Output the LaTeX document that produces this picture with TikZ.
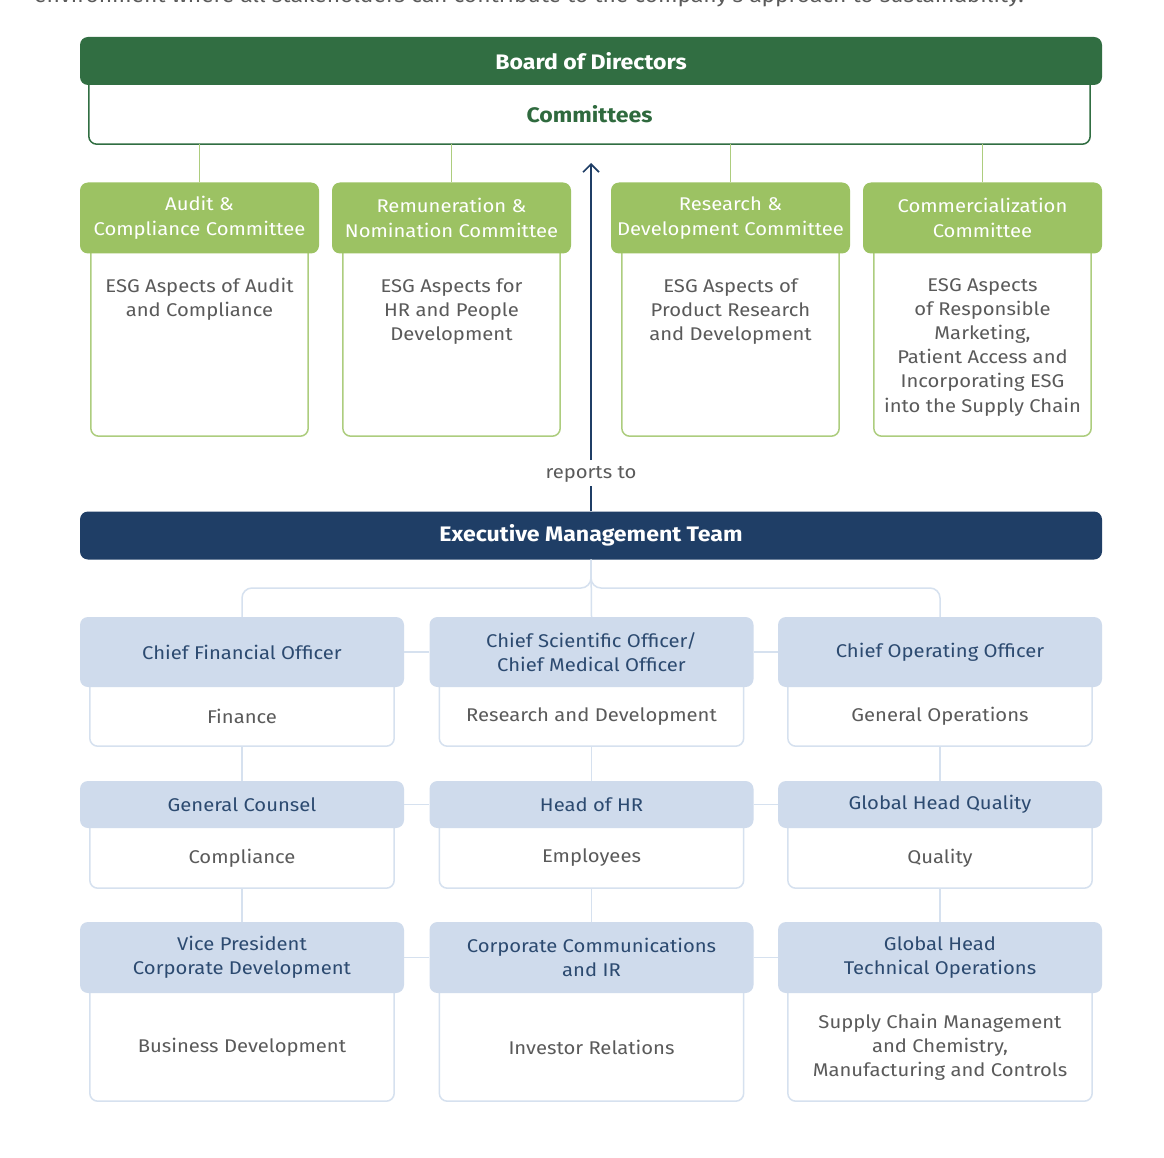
\documentclass[tikz,border=0pt]{standalone}
\usepackage{fontspec}
\setmainfont{Fira Sans}[FakeStretch=1.1]
\usetikzlibrary{arrows.meta}
\definecolor{dkgreen}{HTML}{316E42}
\definecolor{ltgreen}{HTML}{9CC263}
\definecolor{lgline}{HTML}{ADCD7E}
\definecolor{navy}{HTML}{1F3E66}
\definecolor{lblue}{HTML}{CFDBEC}
\definecolor{lbline}{HTML}{D6E1EF}
\definecolor{navytxt}{HTML}{2C4A70}
\definecolor{bodygray}{HTML}{5A5A5A}
\definecolor{commtxt}{HTML}{2F6A3E}
\newcommand\Ubox[2]{\draw[#2] (#1.north west) -- (#1.south west) -- (#1.south east) -- (#1.north east);}
\begin{document}
\begin{tikzpicture}[x=1pt,y=-1pt,
  bar/.style={rounded corners=8pt, text=white, font=\bfseries\fontsize{21}{24}\selectfont, minimum width=1022pt, minimum height=48pt, inner sep=0pt},
  commbox/.style={fill=white, minimum width=1001pt, minimum height=59pt, inner sep=0pt, text=commtxt, font=\bfseries\fontsize{21}{24}\selectfont},
  commline/.style={draw=dkgreen, line width=1.5pt, rounded corners=8pt},
  chdr/.style={fill=ltgreen, rounded corners=8pt, text=white, align=center, font=\fontsize{18.4}{25}\selectfont, minimum width=239pt, minimum height=71pt, inner sep=0pt},
  cbody/.style={fill=white, minimum width=217pt, minimum height=183pt, inner sep=0pt},
  cline/.style={draw=lgline, line width=1.5pt, rounded corners=8pt},
  ctext/.style={text=bodygray, align=center, font=\fontsize{18.4}{24.2}\selectfont, anchor=north, inner sep=0pt},
  gconn/.style={draw=lgline, line width=1.5pt},
  ehdr/.style={fill=lblue, rounded corners=8pt, text=navytxt, align=center, font=\fontsize{18.4}{24}\selectfont, minimum width=324pt, inner sep=0pt},
  ebody/.style={fill=white, minimum width=304pt, inner sep=0pt, text=bodygray, align=center, font=\fontsize{18.4}{24}\selectfont},
  eline/.style={draw=lbline, line width=1.5pt, rounded corners=8pt},
  bconn/.style={draw=lbline, line width=1.5pt},
  navyline/.style={draw=navy, line width=1.6pt}
]
\useasboundingbox[fill=white] (0,0) rectangle (1164,1158);
% cut-off intro text
\begin{scope}
\clip (0,0) rectangle (1164,30);
\node[anchor=base west, inner sep=0pt, text=bodygray, font=\fontsize{20.7}{24}\selectfont] (intro) at (34,3) {environment where all stakeholders can contribute to the company's approach to sustainability.};
\end{scope}
% Board and committees
\node[commbox] (comm) at (589.5,114.5) {Committees};
\Ubox{comm}{commline}
\node[bar, fill=dkgreen] (board) at (591,61) {Board of Directors};
% committee boxes
\foreach \n/\cx/\h/\b in {
  c1/199.5/{Audit \&\\Compliance Committee}/{ESG Aspects of Audit\\and Compliance},
  c2/451.5/{Remuneration \&\\Nomination Committee}/{ESG Aspects for\\HR and People\\Development},
  c3/730.5/{Research \&\\Development Committee}/{ESG Aspects of\\Product Research\\and Development},
  c4/982.5/{Commercialization\\Committee}/{ESG Aspects\\of Responsible\\Marketing,\\Patient Access and\\Incorporating ESG\\into the Supply Chain}}{
  \node[cbody] (\n b) at (\cx,344.5) {};
  \Ubox{\n b}{cline}
  \node[chdr] (\n h) at (\cx,218) {\h};
  \node[ctext] (\n t) at (\cx,278) {\b};
  \draw[gconn] (\n h.north) -- (\n h.north |- comm.south);
}
% reports-to arrow
\node[bar, fill=navy] (emt) at (591,535.5) {Executive Management Team};
\node[text=bodygray, font=\fontsize{18.4}{22}\selectfont, inner sep=0pt] (rep) at (591,474) {reports to};
\coordinate (tip) at (591,163);
\coordinate (gaplow) at (591,486);
\coordinate (gaphigh) at (591,460);
\draw[navyline] (emt.north) -- (gaplow);
\draw[navyline, -{Straight Barb[length=8pt,width=16pt,line width=1.6pt]}] (gaphigh) -- (tip);
% executive rows
\foreach \r/\hy/\hh/\by/\bh in {1/652/70/716.5/59, 2/804.5/47/858/60, 3/957.5/71/1047/108}{
  \foreach \c/\cx in {1/242, 2/591.5, 3/940}{
    \node[ebody, minimum height=\bh pt] (b\r\c) at (\cx,\by) {};
    \Ubox{b\r\c}{eline}
  }
}
% headers
\node[ehdr, minimum height=70pt] (h11) at (242,652) {Chief Financial Officer};
\node[ehdr, minimum height=70pt] (h12) at (591.5,652) {Chief Scientific Officer/\\Chief Medical Officer};
\node[ehdr, minimum height=70pt] (h13) at (940,652) {Chief Operating Officer};
\node[ehdr, minimum height=47pt] (h21) at (242,804.5) {General Counsel};
\node[ehdr, minimum height=47pt] (h22) at (591.5,804.5) {Head of HR};
\node[ehdr, minimum height=47pt] (h23) at (940,804.5) {Global Head Quality};
\node[ehdr, minimum height=71pt] (h31) at (242,957.5) {Vice President\\Corporate Development};
\node[ehdr, minimum height=71pt] (h32) at (591.5,957.5) {Corporate Communications\\and IR};
\node[ehdr, minimum height=71pt] (h33) at (940,957.5) {Global Head\\Technical Operations};
% body texts
\node[ebody, fill=none] (t11) at (b11) {Finance};
\node[ebody, fill=none] (t12) at (b12) {Research and Development};
\node[ebody, fill=none] (t13) at (b13) {General Operations};
\node[ebody, fill=none] (t21) at (b21) {Compliance};
\node[ebody, fill=none] (t22) at (b22) {Employees};
\node[ebody, fill=none] (t23) at (b23) {Quality};
\node[ebody, fill=none] (t31) at (b31) {Business Development};
\node[ebody, fill=none] (t32) at (b32) {Investor Relations};
\node[ebody, fill=none] (t33) at (b33) {Supply Chain Management\\and Chemistry,\\Manufacturing and Controls};
% connectors
\draw[bconn] (emt.south) -- (h12.north);
\draw[bconn, rounded corners=10pt] (h11.north) |- (591,588) -- (emt.south);
\draw[bconn, rounded corners=10pt] (h13.north) |- (591,588) -- (emt.south);
\foreach \c in {1,2,3}{
  \draw[bconn] (b1\c.south) -- (h2\c.north);
  \draw[bconn] (b2\c.south) -- (h3\c.north);
}
\foreach \r in {1,2,3}{
  \draw[bconn] (h\r1.east) -- (h\r2.west);
  \draw[bconn] (h\r2.east) -- (h\r3.west);
}
\end{tikzpicture}
\end{document}
